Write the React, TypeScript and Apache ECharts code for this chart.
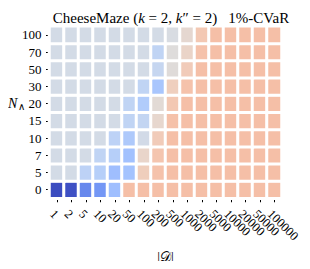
import React, { useEffect, useRef } from 'react';
import * as echarts from 'echarts';

// |D| (x categories) and N∧ (y categories, bottom to top)
const datasetSizes = ['1', '2', '5', '10', '20', '50', '100', '200', '500', '1000', '2000', '5000', '10000', '20000', '50000', '100000'];
const nAnd = ['0', '5', '7', '10', '15', '20', '30', '50', '70', '100'];

// normalised 1%-CVaR score per cell, one array per N∧ row, columns in |D| order
const row0 = [-1, -0.98, -0.72, -0.64, -0.4, 0.28, 0.28, 0.28, 0.28, 0.28, 0.28, 0.28, 0.28, 0.28, 0.28, 0.28];
const row5 = [-0.07, -0.07, -0.22, -0.26, -0.4, -0.37, 0.17, 0.26, 0.28, 0.28, 0.28, 0.28, 0.28, 0.28, 0.28, 0.28];
const row7 = [-0.07, -0.07, -0.07, -0.2, -0.26, -0.38, 0.1, 0.24, 0.28, 0.28, 0.28, 0.28, 0.28, 0.28, 0.28, 0.28];
const row10 = [-0.07, -0.07, -0.07, -0.07, -0.22, -0.31, -0.08, 0.19, 0.28, 0.28, 0.28, 0.28, 0.28, 0.28, 0.28, 0.28];
const row15 = [-0.07, -0.07, -0.07, -0.07, -0.07, -0.2, -0.18, 0.08, 0.27, 0.28, 0.28, 0.28, 0.28, 0.28, 0.28, 0.28];
const row20 = [-0.07, -0.07, -0.07, -0.07, -0.07, -0.2, -0.29, 0.04, 0.22, 0.28, 0.28, 0.28, 0.28, 0.28, 0.28, 0.28];
const row30 = [-0.07, -0.07, -0.07, -0.07, -0.07, -0.07, -0.2, -0.34, 0.16, 0.26, 0.28, 0.28, 0.28, 0.28, 0.28, 0.28];
const row50 = [-0.07, -0.07, -0.07, -0.07, -0.07, -0.07, -0.07, -0.16, 0.02, 0.19, 0.28, 0.28, 0.28, 0.28, 0.28, 0.28];
const row70 = [-0.07, -0.07, -0.07, -0.07, -0.07, -0.07, -0.07, -0.2, 0.01, 0.11, 0.26, 0.28, 0.28, 0.28, 0.28, 0.28];
const row100 = [-0.07, -0.07, -0.07, -0.07, -0.07, -0.07, -0.07, -0.07, -0.04, 0.07, 0.22, 0.28, 0.28, 0.28, 0.28, 0.28];
const rows = [row0, row5, row7, row10, row15, row20, row30, row50, row70, row100];

// coolwarm colormap stops
const coolwarm = ['#3b4cc0', '#4e68d8', '#6282ea', '#779af7', '#8db0fe', '#a3c2fe', '#b8d0f9', '#ccd9ed', '#dddddd', '#ecd3c5', '#f5c4ad', '#f7b194', '#f49a7b', '#ec7f63', '#de604d', '#cb3e38', '#b40426'];

const SERIF = 'Liberation Serif';

export default function App() {
  const ref = useRef<HTMLDivElement>(null);
  useEffect(() => {
    if (!ref.current) return;
    const chart = echarts.init(ref.current, undefined, { renderer: 'svg' });
    const data: number[][] = [];
    rows.forEach((r, yi) => r.forEach((v, xi) => data.push([xi, yi, v])));
    chart.setOption({
      animation: false,
      backgroundColor: '#ffffff',
      title: {
        text: '{n|CheeseMaze (}{i|k}{n| = 2, }{i|k}{n|″ = 2)   1%-CVaR}',
        left: 166,
        textAlign: 'center',
        top: 5,
        textStyle: {
          fontWeight: 'normal',
          rich: {
            n: { fontFamily: SERIF, fontSize: 15, fontWeight: 'normal', color: '#000' },
            i: { fontFamily: SERIF, fontSize: 15, fontWeight: 'normal', fontStyle: 'italic', color: '#000' },
          },
        },
      },
      grid: { left: 49.5, right: 28.5, top: 26.2, bottom: 69.2 },
      xAxis: {
        type: 'category',
        data: datasetSizes,
        axisLine: { show: false },
        axisTick: { show: true, alignWithLabel: true, length: 4, lineStyle: { color: '#000', width: 1 } },
        axisLabel: {
          rotate: -45,
          fontFamily: SERIF,
          fontSize: 12.5,
          color: '#000',
          margin: 9,
          interval: 0,
          align: 'left',
          verticalAlign: 'top',
        },
        splitArea: { show: false },
        name: '{a||}{d|𝒟}{a||}',
        nameLocation: 'middle',
        nameGap: 46,
        nameTextStyle: {
          rich: {
            a: { fontFamily: SERIF, fontSize: 14, color: '#000' },
            d: { fontFamily: SERIF, fontSize: 14, color: '#000' },
          },
        },
      },
      yAxis: {
        type: 'category',
        data: nAnd,
        axisLine: { show: false },
        axisTick: { show: true, alignWithLabel: true, length: 3.5, lineStyle: { color: '#000', width: 1 } },
        axisLabel: { fontFamily: SERIF, fontSize: 13, color: '#000', margin: 8 },
      },
      visualMap: {
        show: false,
        type: 'continuous',
        min: -1,
        max: 1,
        dimension: 2,
        inRange: { color: coolwarm },
      },
      graphic: [
        {
          type: 'text',
          left: 8,
          top: 96,
          style: {
            text: '{n|N}{s|∧}',
            rich: {
              n: { fontFamily: SERIF, fontSize: 14, fontStyle: 'italic', fill: '#000' },
              s: { fontFamily: SERIF, fontSize: 10, fill: '#000', padding: [7, 0, 0, 1] },
            },
          },
        },
      ],
      series: [
        {
          type: 'heatmap',
          data,
          itemStyle: { borderColor: '#ffffff', borderWidth: 3 },
          emphasis: { disabled: true },
        },
      ],
    });
    return () => chart.dispose();
  }, []);
  return <div ref={ref} style={{ width: 310, height: 269, margin: '-8px' }} />;
}
